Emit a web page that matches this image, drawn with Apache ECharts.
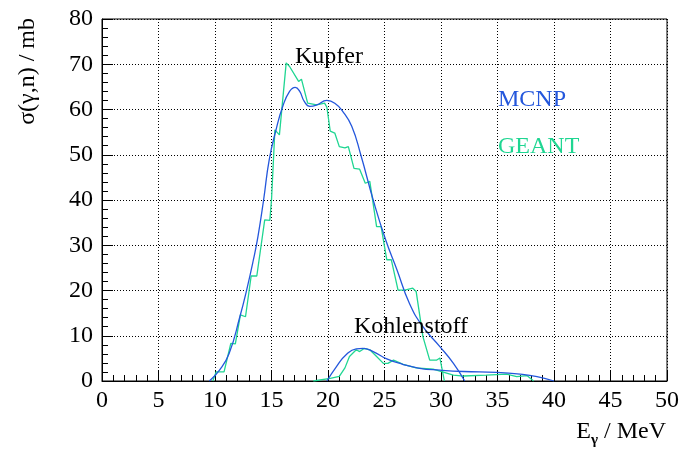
<!DOCTYPE html>
<html>
<head>
<meta charset="utf-8">
<script src="https://cdn.jsdelivr.net/npm/echarts@6/dist/echarts.min.js"></script>
<style>
  html, body { margin: 0; padding: 0; background: #fff; }
  #chart { width: 684px; height: 450px; }
</style>
</head>
<body>
<div id="chart"></div>
<script>
// Photon energy (MeV) and cross section (mb) for each simulation/target pair
const mcnpCuE = [9.5, 10.4, 11.25, 12.2, 12.8, 13.4, 13.8, 14.3, 14.8, 15.4, 16.0, 16.6, 17.1, 17.5, 17.9, 18.4, 19.0, 19.9, 20.6, 21.3, 22.1, 22.9, 24.0, 25.1, 26.1, 27.2, 28.4, 29.9, 31.1, 32.1];
const mcnpCuSigma = [0, 2.4, 6.1, 14.2, 20.1, 26.8, 31.9, 40, 48.9, 55.5, 60.7, 64.0, 64.9, 64.0, 61.8, 60.7, 61.0, 62.0, 61.4, 59.6, 56.3, 50.0, 40.0, 31.2, 24.6, 17.2, 12.0, 7.6, 3.9, 0];

const geantCuE = [9.8, 10.1, 10.8, 11.4, 11.8, 12.25, 12.7, 13.2, 13.7, 14.4, 14.85, 15.0, 15.3, 15.7, 16.3, 16.6, 17.4, 17.65, 18.2, 19.0, 19.7, 19.9, 20.2, 20.6, 21.0, 21.5, 21.8, 22.3, 22.8, 23.3, 23.7, 24.3, 24.7, 25.2, 25.6, 26.2, 26.8, 27.5, 27.8, 28.4, 29.0, 29.6, 29.9, 30.3];
const geantCuSigma = [0, 2.0, 2.0, 8.3, 8.2, 14.6, 14.2, 23.2, 23.2, 35.6, 35.5, 40.0, 55.5, 54.4, 70.3, 69.5, 66.2, 66.7, 61.4, 61.0, 61.4, 60.5, 55.2, 54.8, 51.8, 51.5, 51.8, 47.0, 46.8, 43.7, 44.1, 34.1, 34.1, 26.8, 26.8, 20.1, 20.1, 20.5, 19.8, 9.8, 4.6, 4.6, 5.1, 0];

const mcnpCE = [19.9, 20.75, 21.6, 22.5, 23.1, 24.0, 25.2, 26.6, 28.1, 29.9, 32.0, 34.9, 37.0, 38.5, 40.0];
const mcnpCSigma = [0, 3.2, 5.8, 7.1, 7.2, 6.5, 4.9, 3.7, 2.8, 2.4, 2.1, 1.9, 1.5, 0.95, 0];

const geantCE = [18.7, 20.2, 21.0, 21.5, 21.9, 22.5, 22.8, 23.2, 23.7, 24.3, 24.9, 25.3, 25.8, 26.65, 27.8, 29.3, 31.1, 32.0, 34.0, 35.8, 36.7, 37.6, 38.2];
const geantCSigma = [0, 0.6, 1.0, 2.9, 5.4, 6.9, 6.5, 7.2, 6.9, 5.4, 3.9, 3.9, 4.6, 3.7, 2.9, 2.6, 1.3, 1.1, 1.3, 1.5, 0.95, 1.2, 0];

const pairs = (xs, ys) => xs.map((x, i) => [x, ys[i]]);

const BLUE = '#2457dc';
const GREEN = '#1fd692';
const SERIF = 'Liberation Serif';
const FS = 24;

const chart = echarts.init(document.getElementById('chart'));

const lineSeries = (data, color, smooth) => ({
  type: 'line',
  data: data,
  showSymbol: false,
  smooth: smooth,
  lineStyle: { color: color, width: 1.3 },
  animation: false,
  z: color === BLUE ? 4 : 3
});

const label = (text, x, y, opts) => ({
  type: 'text', x: x, y: y, z: 10, rotation: opts.rotation || 0,
  style: {
    text: text,
    fontFamily: SERIF,
    fontSize: opts.size || FS,
    fontWeight: opts.weight || 'normal',
    fill: opts.color || '#000',
    textAlign: opts.align || 'center',
    textVerticalAlign: 'middle'
  }
});

chart.setOption({
  animation: false,
  backgroundColor: '#fff',
  grid: {
    left: 102, right: 17, top: 19, bottom: 69,
    show: true, borderColor: '#000', borderWidth: 1
  },
  xAxis: {
    type: 'value', min: 0, max: 50, interval: 5,
    axisLine: { show: true, lineStyle: { color: '#000', width: 1 } },
    axisTick: { show: true, inside: true, length: 11, lineStyle: { color: '#000' } },
    minorTick: { show: true, splitNumber: 5, length: 6, lineStyle: { color: '#000' } },
    axisLabel: { color: '#000', fontFamily: SERIF, fontSize: FS, margin: 8 },
    splitLine: { show: true, lineStyle: { color: '#000', width: 1, type: [1, 2] } }
  },
  yAxis: {
    type: 'value', min: 0, max: 80, interval: 10,
    axisLine: { show: true, lineStyle: { color: '#000', width: 1 } },
    axisTick: { show: true, inside: true, length: 11, lineStyle: { color: '#000' } },
    minorTick: { show: true, splitNumber: 5, length: 6, lineStyle: { color: '#000' } },
    axisLabel: { color: '#000', fontFamily: SERIF, fontSize: FS, margin: 9 },
    splitLine: { show: true, lineStyle: { color: '#000', width: 1, type: [1, 2] } }
  },
  series: [
    lineSeries(pairs(geantCuE, geantCuSigma), GREEN, false),
    lineSeries(pairs(geantCE, geantCSigma), GREEN, false),
    lineSeries(pairs(mcnpCuE, mcnpCuSigma), BLUE, 0.5),
    lineSeries(pairs(mcnpCE, mcnpCSigma), BLUE, 0.5)
  ],
  graphic: [
    label('Kupfer', 329, 57, {}),
    label('Kohlenstoff', 411, 327, {}),
    label('MCNP', 498, 100, { align: 'left', color: BLUE }),
    label('GEANT', 498, 147, { align: 'left', color: GREEN }),
    label('σ(γ,n) / mb', 28, 18, { rotation: Math.PI / 2, align: 'right' }),
    label('/ MeV', 666, 432, { align: 'right' }),
    label('γ', 591, 440, { align: 'left', size: 15, weight: 'bold' }),
    label('E', 591, 432, { align: 'right' })
  ]
});
</script>
</body>
</html>
